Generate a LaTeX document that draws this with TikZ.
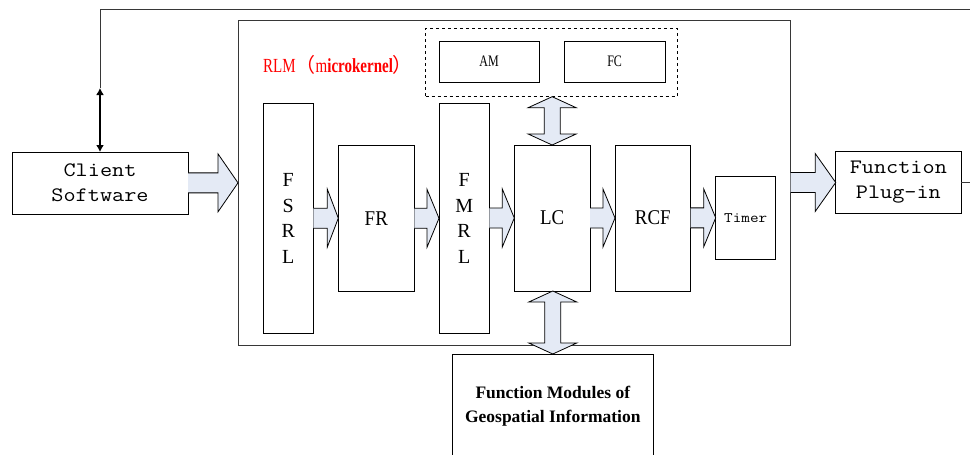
\documentclass[tikz,border=0pt]{standalone}
\usepackage{fontspec}
\setmainfont{Liberation Serif}
\newfontfamily\monof[FakeStretch=1.15]{Latin Modern Mono}
\newfontfamily\narrowf[FakeStretch=0.9]{Liberation Serif}
\newfontfamily\smallf[FakeStretch=0.75]{Liberation Serif}
\newfontfamily\cjkf{Noto Sans CJK SC}
\usetikzlibrary{calc,arrows.meta}
\definecolor{arrowfill}{RGB}{228,234,245}
\definecolor{linegray}{RGB}{55,55,55}
\tikzset{
  box/.style={draw=black, line width=0.9pt, inner sep=0pt, outer sep=0pt, fill=white, align=center},
  blockarr/.style={draw=black, line width=0.8pt, fill=arrowfill, line join=miter},
  monotext/.style={font=\monof\fontsize{20.5}{25}\selectfont},
  serifbig/.style={font=\narrowf\fontsize{21}{25.5}\selectfont},
  letters/.style={font=\rmfamily\fontsize{20}{25.5}\selectfont},
  thinline/.style={draw=linegray, line width=0.9pt},
}
\newcommand\hblock[3]{\draw[blockarr] let \p1=(#1.east), \p2=(#2.west) in
  (\x1,\y2+10pt) -- (\x2-#3,\y2+10pt) -- (\x2-#3,\y2+29pt) -- (\x2,\y2) --
  (\x2-#3,\y2-29pt) -- (\x2-#3,\y2-10pt) -- (\x1,\y2-10pt);}
\newcommand\vblock[2]{\draw[blockarr] let \p1=(#1.south), \p2=(#2.north) in
  (\x2,\y1) -- (\x2+24pt,\y1-11pt) -- (\x2+8pt,\y1-11pt) -- (\x2+8pt,\y2+11pt) --
  (\x2+24pt,\y2+11pt) -- (\x2,\y2) -- (\x2-24pt,\y2+11pt) -- (\x2-8pt,\y2+11pt) --
  (\x2-8pt,\y1-11pt) -- (\x2-24pt,\y1-11pt) -- cycle;}
\begin{document}
\begin{tikzpicture}[x=1pt,y=-1pt]
\useasboundingbox (0,0) rectangle (970,455);
% main frame
\node[box, draw=linegray, minimum width=552.7pt, minimum height=325.7pt] (main) at (514.35,182.85) {};
\node[anchor=west, inner sep=0pt, text=red, font=\smallf\fontsize{20}{22}\selectfont] (rlm) at (263,65)
  {RLM{\cjkf （}m\textbf{icrokernel}{\cjkf ）}};
% dashed group
\node[box, dashed, line width=0.8pt, minimum width=251.3pt, minimum height=68.4pt] (dash) at (551.35,62.5) {};
\node[box, minimum width=100.3pt, minimum height=41.3pt, font=\smallf\fontsize{16}{18}\selectfont] (am) at (489.15,61.65) {AM};
\node[box, minimum width=100.7pt, minimum height=41.3pt, font=\smallf\fontsize{16}{18}\selectfont] (fc) at (614.65,61.65) {FC};
% inner chain
\node[box, minimum width=50pt, minimum height=230pt, letters] (fsrl) at (288.3,218.3) {F\\S\\R\\L};
\node[box, minimum width=76pt, minimum height=145.7pt, serifbig] (fr) at (376.3,218.15) {FR};
\node[box, minimum width=50.3pt, minimum height=230pt, letters] (fmrl) at (464.15,218.3) {F\\M\\R\\L};
\node[box, minimum width=75.7pt, minimum height=146pt, serifbig] (lc) at (552.15,218) {LC};
\node[box, minimum width=75.7pt, minimum height=146pt, serifbig] (rcf) at (652.85,218) {RCF};
\node[box, minimum width=60pt, minimum height=82.3pt, font=\monof\fontsize{14.5}{17}\selectfont] (timer) at (745.7,217.85) {Timer};
% outer boxes
\node[box, minimum width=176pt, minimum height=62pt, monotext] (client) at (100,183) {Client\\Software};
\node[box, minimum width=125.3pt, minimum height=61.6pt, monotext] (plug) at (898.35,182.5) {Function\\Plug-in};
\node[box, minimum width=201pt, minimum height=104pt, font=\bfseries\fontsize{17.5}{24}\selectfont] (fm) at (552.8,406) {Function Modules of\\Geospatial Information};
% block arrows
\hblock{client}{main}{20pt}
\hblock{fsrl}{fr}{11pt}
\hblock{fr}{fmrl}{12pt}
\hblock{fmrl}{lc}{12pt}
\hblock{lc}{rcf}{12pt}
\hblock{rcf}{timer}{12pt}
\hblock{main}{plug}{20.5pt}
\vblock{dash}{lc}
\vblock{lc}{fm}
% feedback loop
\coordinate (r1) at (971.5,182.5);
\coordinate (r2) at (971.5,9.5);
\coordinate (t) at (100,9.5);
\coordinate (a) at (100,88);
\draw[thinline] (plug.east) -- (r1) -- (r2) -- (t) -- (a);
\draw[line width=1.8pt, {Latex[length=7pt,width=8pt]}-{Latex[length=7pt,width=8pt]}] (a) -- (client.north);
\end{tikzpicture}
\end{document}
